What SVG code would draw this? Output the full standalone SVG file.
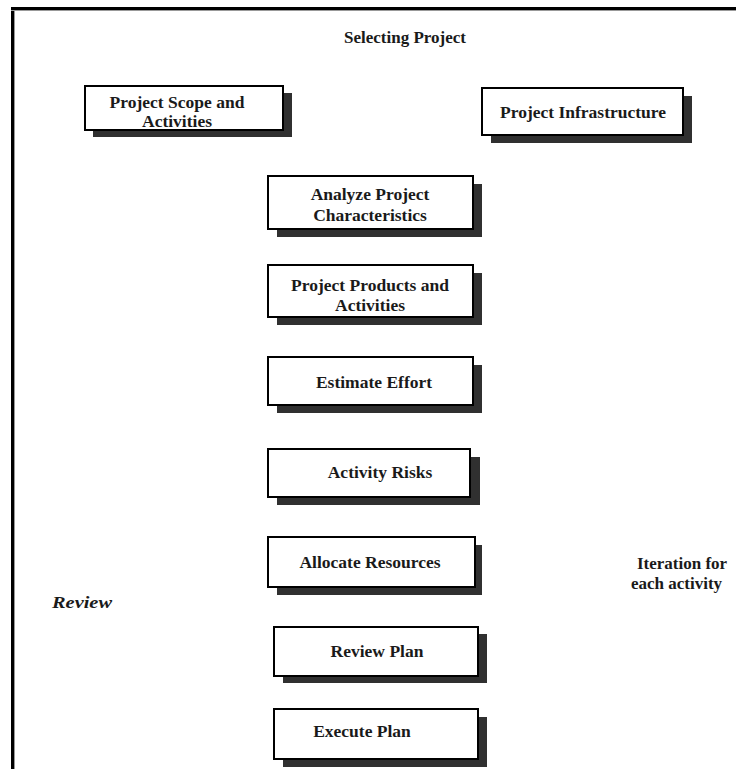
<svg xmlns="http://www.w3.org/2000/svg" width="736" height="769" viewBox="0 0 736 769">
  <style>
    .shadow { fill: #303030; }
    .box { fill: #ffffff; stroke: #000000; stroke-width: 2; }
    .lbl { font-family: "Liberation Serif", "Times New Roman", serif; font-size: 17.5px; font-weight: bold; fill: #1a1a1a; text-anchor: middle; }
    .note { font-family: "Liberation Serif", "Times New Roman", serif; font-size: 17px; font-weight: bold; fill: #1a1a1a; }
  </style>
  <rect width="736" height="769" fill="#ffffff"/>

  <!-- page frame -->
  <g id="frame">
    <line x1="11" y1="8.5" x2="736" y2="8.5" stroke="#000" stroke-width="3"/>
    <line x1="12.5" y1="7" x2="12.5" y2="769" stroke="#000" stroke-width="3"/>
    <line x1="11" y1="10.5" x2="736" y2="10.5" stroke="#999" stroke-width="1"/>
    <line x1="14.5" y1="10" x2="14.5" y2="769" stroke="#999" stroke-width="1"/>
  </g>

  <g id="title">
    <text class="note" x="405" y="43" text-anchor="middle" font-size="17.5">Selecting Project</text>
  </g>

  <g id="scope">
    <rect class="shadow" x="93" y="93" width="199" height="44"/>
    <rect class="box" x="85" y="86" width="198" height="44"/>
    <text class="lbl" x="177" y="108">Project Scope and</text>
    <text class="lbl" x="177" y="127">Activities</text>
  </g>

  <g id="infrastructure">
    <rect class="shadow" x="491" y="96" width="201" height="47"/>
    <rect class="box" x="482" y="88" width="201" height="47"/>
    <text class="lbl" x="583" y="118">Project Infrastructure</text>
  </g>

  <g id="analyze">
    <rect class="shadow" x="277" y="184" width="205" height="53"/>
    <rect class="box" x="268" y="176" width="205" height="53"/>
    <text class="lbl" x="370" y="200">Analyze Project</text>
    <text class="lbl" x="370" y="221">Characteristics</text>
  </g>

  <g id="products">
    <rect class="shadow" x="277" y="273" width="205" height="52"/>
    <rect class="box" x="268" y="265" width="205" height="52"/>
    <text class="lbl" x="370" y="291">Project Products and</text>
    <text class="lbl" x="370" y="311">Activities</text>
  </g>

  <g id="estimate">
    <rect class="shadow" x="277" y="365" width="205" height="48"/>
    <rect class="box" x="268" y="357" width="205" height="48"/>
    <text class="lbl" x="374" y="388">Estimate Effort</text>
  </g>

  <g id="risks">
    <rect class="shadow" x="277" y="457" width="203" height="48"/>
    <rect class="box" x="268" y="449" width="202" height="48"/>
    <text class="lbl" x="380" y="478">Activity Risks</text>
  </g>

  <g id="allocate">
    <rect class="shadow" x="277" y="545" width="205" height="50"/>
    <rect class="box" x="268" y="537" width="207" height="50"/>
    <text class="lbl" x="370" y="568">Allocate Resources</text>
  </g>

  <g id="review-plan">
    <rect class="shadow" x="283" y="634" width="204" height="49"/>
    <rect class="box" x="274" y="627" width="204" height="49"/>
    <text class="lbl" x="377" y="657">Review Plan</text>
  </g>

  <g id="execute-plan">
    <rect class="shadow" x="283" y="717" width="204" height="50"/>
    <rect class="box" x="274" y="709" width="204" height="50"/>
    <text class="lbl" x="362" y="737">Execute Plan</text>
  </g>

  <g id="review-note">
    <text class="note" x="52" y="608" font-style="italic" textLength="60" lengthAdjust="spacingAndGlyphs">Review</text>
  </g>

  <g id="iteration-note">
    <text class="note" x="637" y="569">Iteration for</text>
    <text class="note" x="631" y="589">each activity</text>
  </g>

  <g id="connectors"/>
</svg>
